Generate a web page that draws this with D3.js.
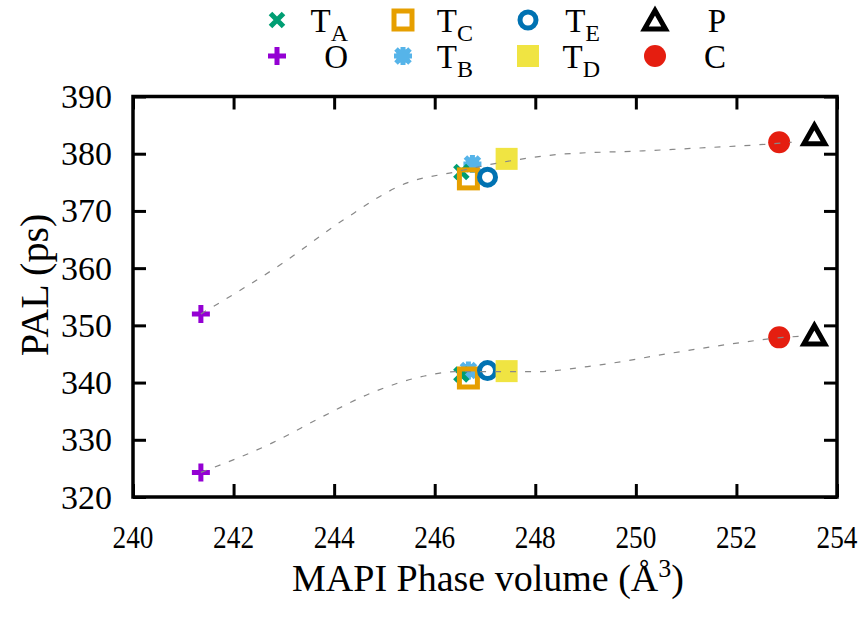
<!DOCTYPE html>
<html><head><meta charset="utf-8">
<script src="https://cdn.jsdelivr.net/npm/d3@7"></script>
<style>
html,body{margin:0;padding:0;background:#fff;}
svg text{font-family:"Liberation Serif","Tinos","Nimbus Roman","Times New Roman","Times","Noto Serif","DejaVu Serif",serif;fill:#000;}
</style></head>
<body><svg id="chart" width="868" height="622"></svg>
<script>
// ---- data ----
const xTicks = [240, 242, 244, 246, 248, 250, 252, 254];
const yTicks = [320, 330, 340, 350, 360, 370, 380, 390];

const TA_x = [246.53, 246.53], TA_y = [376.8, 341.4];
const O_x  = [241.35, 241.35], O_y  = [352.0, 324.3];
const TC_x = [246.67, 246.67], TC_y = [375.6, 340.8];
const TB_x = [246.75, 246.67], TB_y = [378.2, 342.1];
const TE_x = [247.05, 247.05], TE_y = [375.9, 342.1];
const TD_x = [247.43, 247.43], TD_y = [379.1, 342.0];
const P_x  = [253.55, 253.55], P_y  = [383.3, 348.3];
const C_x  = [252.85, 252.85], C_y  = [382.0, 347.9];

// dashed trend guides
const upperTrendX = [241.35, 242.98, 244.18, 245.45, 246.4, 247.4, 248.5, 250.14, 251.27, 252.33, 253.1];
const upperTrendY = [352.0, 360.9, 368.4, 374.9, 376.8, 378.6, 379.9, 380.5, 381.0, 381.5, 382.0];
const lowerTrendX = [241.35, 242.78, 243.78, 244.77, 245.77, 246.4, 247.95, 249.29, 250.74, 251.93, 252.93, 253.3];
const lowerTrendY = [324.3, 329.5, 334.1, 338.3, 341.1, 341.9, 341.9, 343.1, 345.2, 346.8, 347.9, 348.1];

// ---- chart ----
const FONT = '"Liberation Serif","Tinos","Nimbus Roman","Times New Roman",Times,serif';
const svg = d3.select("#chart");
const L = 133, R = 837, T = 96.5, B = 497;
const x = d3.scaleLinear().domain([240, 254]).range([L, R]);
const y = d3.scaleLinear().domain([320, 390]).range([B, T]);

const colors = {TA:"#009e73", O:"#9400d3", TC:"#e69f00", TB:"#56b4e9", TE:"#0072b2", TD:"#f0e442", P:"#000000", C:"#e51e10"};

const tickLen = 13;
const gx = svg.append("g").attr("transform", `translate(0,${B})`)
  .call(d3.axisBottom(x).tickValues(xTicks).tickFormat("").tickSizeInner(-tickLen).tickSizeOuter(0));
const gxt = svg.append("g").attr("transform", `translate(0,${T})`)
  .call(d3.axisTop(x).tickValues(xTicks).tickFormat("").tickSizeInner(-tickLen).tickSizeOuter(0));
const gy = svg.append("g").attr("transform", `translate(${L},0)`)
  .call(d3.axisLeft(y).tickValues(yTicks).tickFormat("").tickSizeInner(-tickLen).tickSizeOuter(0));
const gyr = svg.append("g").attr("transform", `translate(${R},0)`)
  .call(d3.axisRight(y).tickValues(yTicks).tickFormat("").tickSizeInner(-tickLen).tickSizeOuter(0));
[gx, gxt, gy, gyr].forEach(g => {
  g.select(".domain").remove();
  g.selectAll(".tick text").remove();
  g.selectAll(".tick line").attr("stroke", "#000").attr("stroke-width", 3);
});

// tick labels (serif text placed with the scales)
const xl = svg.append("g");
xTicks.forEach(v => {
  xl.append("text").attr("transform", `translate(${x(v)},${B + 51}) scale(0.88,1)`)
    .attr("text-anchor", "middle").attr("font-size", 31).text(v);
});
const yl = svg.append("g");
yTicks.forEach(v => {
  yl.append("text").attr("x", L - 21).attr("y", y(v) + 11.5)
    .attr("text-anchor", "end").attr("font-size", 34).text(v);
});

// frame
svg.append("rect").attr("x", L).attr("y", T).attr("width", R - L).attr("height", B - T)
  .attr("fill", "none").attr("stroke", "#000").attr("stroke-width", 3.5);

// axis titles
svg.append("text").attr("x", 488).attr("y", 591).attr("text-anchor", "middle").attr("font-size", 38)
  .html('MAPI Phase volume (Å<tspan dy="-14" font-size="26">3</tspan><tspan dy="14">)</tspan>');
svg.append("text").attr("transform", "translate(48,285) rotate(-90)").attr("text-anchor", "middle").attr("font-size", 40)
  .text("PAL (ps)");

function marker(g, name) {
  const c = colors[name];
  if (name === "TA") {
    g.append("path").attr("d", "M-6.5,-6.5L6.5,6.5M-6.5,6.5L6.5,-6.5").attr("stroke", c).attr("stroke-width", 5).attr("fill", "none");
  } else if (name === "O") {
    g.append("path").attr("d", "M-9,0L9,0M0,-9L0,9").attr("stroke", c).attr("stroke-width", 5).attr("fill", "none");
  } else if (name === "TC") {
    g.append("rect").attr("x", -9).attr("y", -9).attr("width", 18).attr("height", 18).attr("fill", "none").attr("stroke", c).attr("stroke-width", 5);
  } else if (name === "TB") {
    g.append("path").attr("d", "M-7,-7L7,7M-7,7L7,-7M-9,0L9,0M0,-9L0,9").attr("stroke", c).attr("stroke-width", 5).attr("fill", "none");
    g.append("rect").attr("x", -6.5).attr("y", -6.5).attr("width", 13).attr("height", 13).attr("fill", c);
  } else if (name === "TE") {
    g.append("circle").attr("r", 8).attr("fill", "none").attr("stroke", c).attr("stroke-width", 5);
  } else if (name === "TD") {
    g.append("rect").attr("x", -11).attr("y", -11).attr("width", 22).attr("height", 22).attr("fill", c);
  } else if (name === "P") {
    g.append("path").attr("d", "M0,-9.5L10.5,9L-10.5,9Z").attr("fill", "none").attr("stroke", c).attr("stroke-width", 5).attr("stroke-linejoin", "miter");
  } else if (name === "C") {
    g.append("circle").attr("r", 11).attr("fill", c);
  }
}

const seriesData = {
  TA: [TA_x, TA_y], O: [O_x, O_y], TC: [TC_x, TC_y], TB: [TB_x, TB_y],
  TE: [TE_x, TE_y], TD: [TD_x, TD_y], P: [P_x, P_y], C: [C_x, C_y]
};
const drawOrder = ["O", "TB", "TA", "TC", "TE", "TD", "P", "C"];
drawOrder.forEach(name => {
  const [xs, ys] = seriesData[name];
  xs.forEach((xv, i) => {
    const g = svg.append("g").attr("transform", `translate(${x(xv)},${y(ys[i])})`);
    marker(g, name);
  });
});

const line = d3.line().x(d => x(d[0])).y(d => y(d[1])).curve(d3.curveMonotoneX);
[[upperTrendX, upperTrendY], [lowerTrendX, lowerTrendY]].forEach(([xs, ys]) => {
  svg.append("path").datum(xs.map((v, i) => [v, ys[i]])).attr("d", line)
    .attr("fill", "none").attr("stroke", "#888").attr("stroke-width", 1.2).attr("stroke-dasharray", "6,9");
});

// legend (labels right-justified, symbol on the left)
const legendItems = [
  {name:"TA", col:0, row:0, base:"T", sub:"A"},
  {name:"O",  col:0, row:1, base:"O", sub:null},
  {name:"TC", col:1, row:0, base:"T", sub:"C"},
  {name:"TB", col:1, row:1, base:"T", sub:"B"},
  {name:"TE", col:2, row:0, base:"T", sub:"E"},
  {name:"TD", col:2, row:1, base:"T", sub:"D"},
  {name:"P",  col:3, row:0, base:"P", sub:null},
  {name:"C",  col:3, row:1, base:"C", sub:null}
];
const symX = [277, 403, 528, 655];
const textEnd = [348, 473, 600, 726];
const symY = [20, 56];
const baseY = [32, 68];
legendItems.forEach(it => {
  const g = svg.append("g").attr("transform", `translate(${symX[it.col]},${symY[it.row]})`);
  marker(g, it.name);
  const t = svg.append("text").attr("x", textEnd[it.col]).attr("y", baseY[it.row]).attr("font-size", 33).attr("text-anchor", "end");
  t.append("tspan").text(it.base);
  if (it.sub) t.append("tspan").attr("dy", 9).attr("font-size", 24).text(it.sub);
});

svg.selectAll("text").style("font-family", FONT);
</script></body></html>
